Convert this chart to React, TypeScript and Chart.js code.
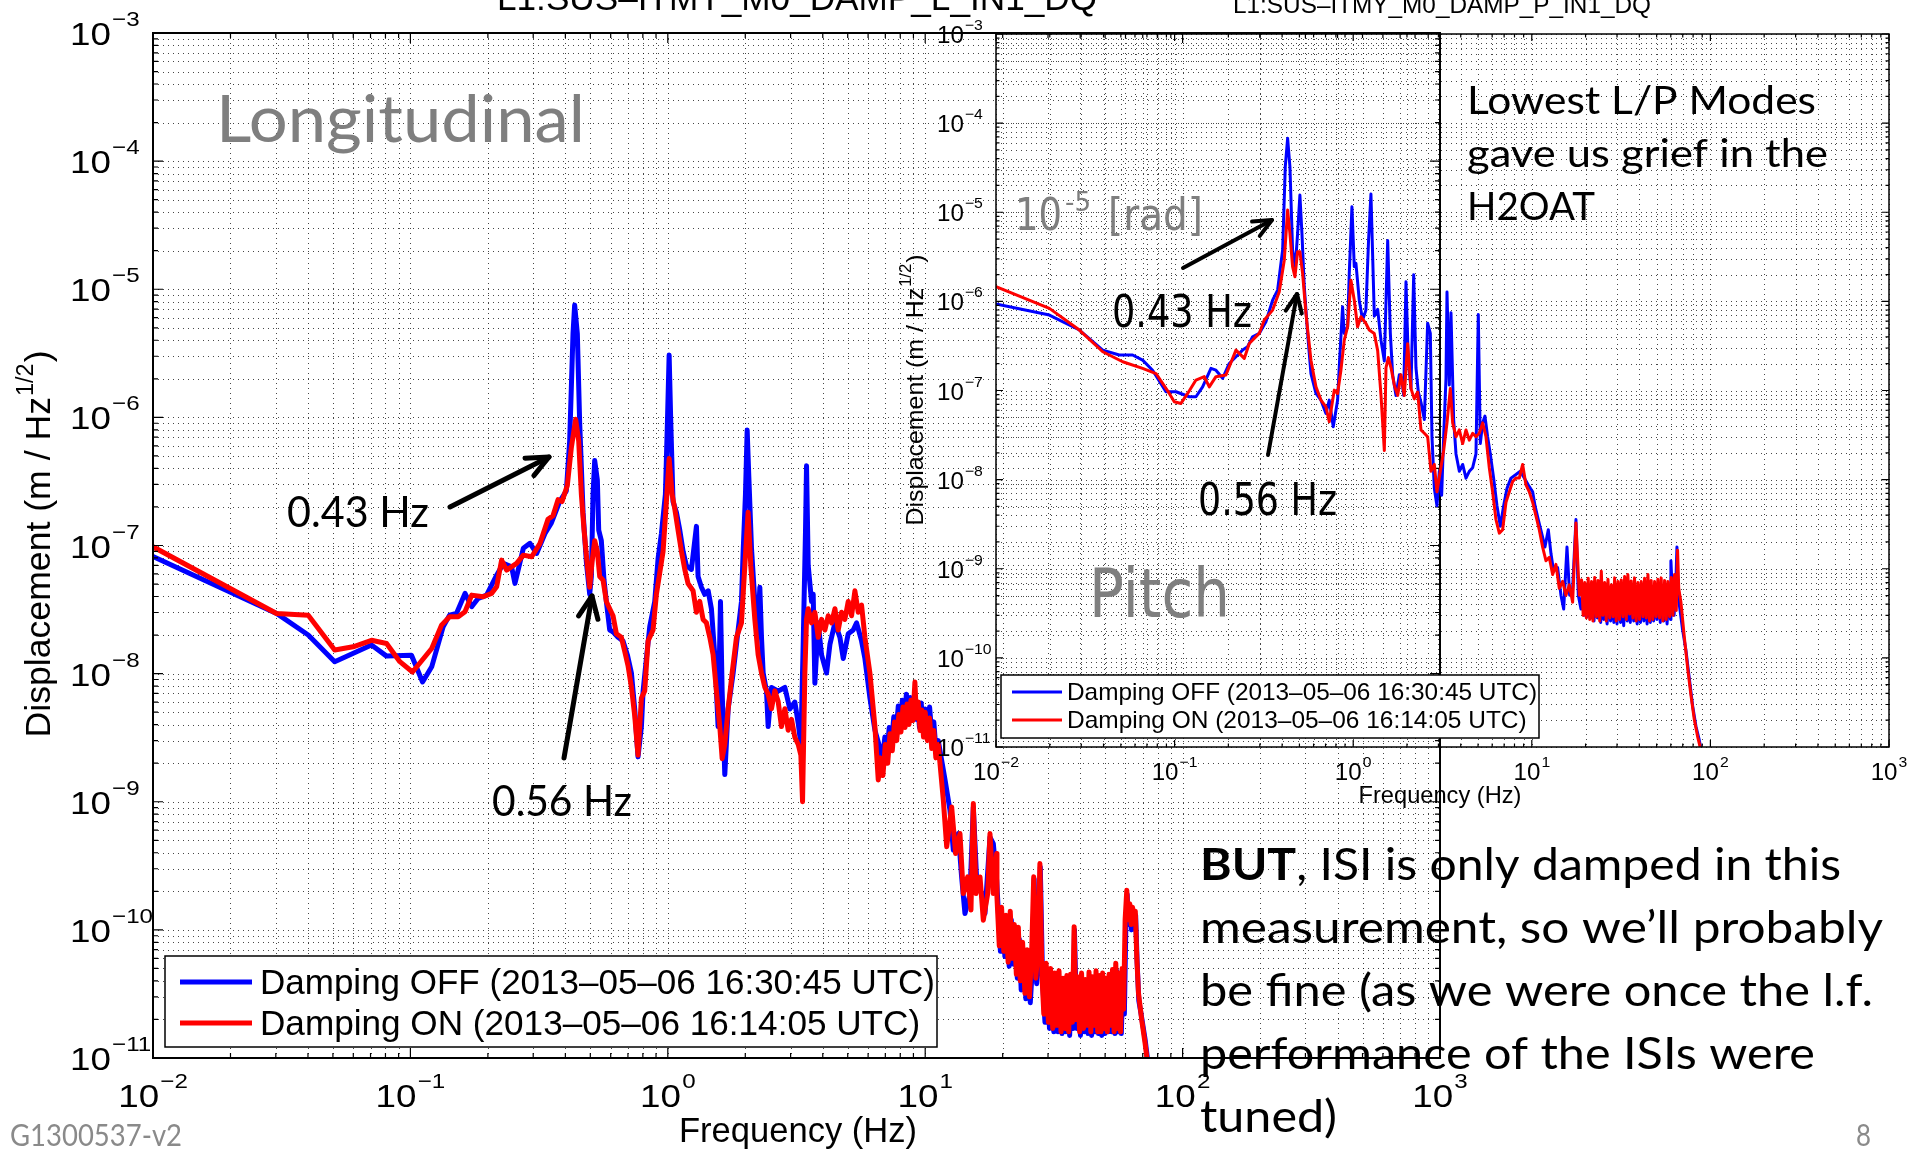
import React, { useEffect, useRef } from 'react';
import { Chart, registerables } from 'chart.js';

Chart.register(...registerables);

const W = 1927;
const H = 1152;

// ---------------- DATA (frequency Hz, amplitude) ----------------
const mainOff: [number, number][] = [
  [0.01, 8.2e-8], [0.0302, 2.95e-8], [0.0401, 2.0e-8], [0.0508, 1.24e-8], [0.0706, 1.67e-8], [0.0808, 1.37e-8],
  [0.101, 1.39e-8], [0.1115, 8.6e-9], [0.121, 1.13e-8], [0.134, 2.32e-8], [0.142, 2.86e-8], [0.151, 2.95e-8],
  [0.163, 4.23e-8], [0.173, 3.33e-8], [0.1835, 3.87e-8], [0.1977, 4.1e-8], [0.2163, 5.87e-8], [0.2296, 7.25e-8],
  [0.2472, 6.82e-8], [0.2548, 5.06e-8], [0.2746, 9.5e-8], [0.2914, 1.04e-7], [0.3093, 8.67e-8], [0.3333, 1.24e-7],
  [0.353, 1.5e-7], [0.38, 2.2e-7], [0.4035, 2.67e-7], [0.4157, 6.56e-7], [0.4283, 4.51e-6], [0.4346, 7.53e-6],
  [0.4452, 4.5e-6], [0.4546, 9.06e-7], [0.4686, 1.82e-7], [0.4827, 7.4e-8], [0.4972, 4.16e-8], [0.5047, 5.73e-8],
  [0.5123, 2.51e-7], [0.52, 4.61e-7], [0.5325, 3.24e-7], [0.539, 1.32e-7], [0.5518, 1.09e-7], [0.5652, 5.37e-8],
  [0.5771, 3.66e-8], [0.5947, 2.19e-8], [0.6127, 2.12e-8], [0.6407, 1.92e-8], [0.67, 1.8e-8], [0.6966, 1.4e-8],
  [0.7222, 1.01e-8], [0.7438, 5.3e-9], [0.766, 2.24e-9], [0.7898, 3.86e-9], [0.8017, 7.3e-9], [0.8257, 1.31e-8],
  [0.851, 2.33e-8], [0.8897, 3.66e-8], [0.9167, 7.9e-8], [0.9445, 1.24e-7], [0.9788, 2.51e-7], [0.9965, 9.06e-7],
  [1.012, 3.07e-6], [1.027, 9.06e-7], [1.048, 2.2e-7], [1.08, 1.82e-7], [1.113, 1.32e-7], [1.147, 8.97e-8],
  [1.181, 6.95e-8], [1.235, 6.5e-8], [1.292, 1.41e-7], [1.311, 5.73e-8], [1.351, 4.72e-8], [1.392, 4.16e-8],
  [1.435, 4.43e-8], [1.477, 3.21e-8], [1.522, 1.4e-8], [1.568, 3.86e-9], [1.602, 3.66e-8], [1.626, 7.3e-9],
  [1.665, 1.63e-9], [1.716, 5.3e-9], [1.794, 1.01e-8], [1.876, 2.19e-8], [1.933, 3.66e-8], [1.962, 8.97e-8],
  [2.003, 2.5e-7], [2.034, 7.96e-7], [2.064, 3.46e-7], [2.114, 9.57e-8], [2.178, 3.66e-8], [2.231, 1.92e-8],
  [2.278, 4.72e-8], [2.312, 1.92e-8], [2.347, 1.01e-8], [2.418, 7.3e-9], [2.454, 3.86e-9], [2.528, 7.8e-9],
  [2.684, 7.3e-9], [2.85, 7.8e-9], [2.979, 5.3e-9], [3.116, 6.0e-9], [3.211, 4.1e-9], [3.288, 2.8e-9],
  [3.357, 1.69e-8], [3.428, 1.32e-7], [3.459, 4.19e-7], [3.512, 6.95e-8], [3.618, 3.66e-8], [3.672, 4.16e-8],
  [3.727, 8.4e-9], [3.84, 2.49e-8], [3.957, 1.4e-8], [4.138, 1.01e-8], [4.264, 1.69e-8], [4.459, 2.49e-8],
  [4.663, 1.92e-8], [4.805, 1.31e-8], [5.023, 2.05e-8], [5.253, 2.19e-8], [5.413, 2.49e-8], [5.659, 1.8e-8],
  [5.831, 1.31e-8], [6.098, 6.46e-9], [6.377, 3.62e-9], [6.669, 2.63e-9], [6.8, 2.0e-9], [6.97, 3.2e-9],
  [7.1, 2.4e-9], [7.25, 3.8e-9], [7.4, 2.8e-9], [7.55, 4.6e-9], [7.7, 3.4e-9], [7.86, 5.6e-9],
  [8.0, 4.0e-9], [8.15, 6.2e-9], [8.3, 4.4e-9], [8.45, 6.9e-9], [8.6, 4.8e-9], [8.75, 6.5e-9],
  [8.9, 4.6e-9], [9.05, 6.2e-9], [9.2, 4.4e-9], [9.35, 5.7e-9], [9.5, 3.8e-9], [9.65, 5.9e-9],
  [9.8, 3.7e-9], [10.0, 5.3e-9], [10.2, 3.6e-9], [10.4, 5.5e-9], [10.6, 3.4e-9], [10.8, 4.2e-9],
  [11.0, 2.6e-9], [11.24, 3.0e-9], [11.93, 1.5e-9], [12.48, 8.6e-10], [12.86, 4.19e-10], [13.45, 5.65e-10],
  [13.85, 2.59e-10], [14.27, 1.34e-10], [14.93, 1.92e-10], [15.38, 9.1e-10], [15.85, 2.44e-10], [16.57, 1.92e-10],
  [17.07, 1.34e-10], [17.85, 5.3e-10], [18.39, 4.72e-10], [18.95, 2.44e-10], [19.2, 1.5e-10], [19.6, 6.8e-11],
  [20.0, 1.2e-10], [20.4, 6.2e-11], [20.8, 1.1e-10], [21.2, 5.2e-11], [21.6, 1.2e-10], [22.0, 5.4e-11],
  [22.4, 9.0e-11], [22.8, 4.2e-11], [23.2, 8.5e-11], [23.6, 3.4e-11], [24.1, 6.6e-11], [24.6, 2.9e-11],
  [25.1, 5.8e-11], [25.6, 2.7e-11], [26.1, 5.2e-11], [26.5, 2.5e-10], [27.1, 3.8e-11], [27.6, 5.5e-11],
  [28.0, 3.1e-10], [28.6, 3.8e-11], [29.2, 1.9e-11], [29.8, 4.5e-11], [30.4, 1.7e-11], [31.0, 4.0e-11],
  [31.6, 1.6e-11], [32.2, 3.8e-11], [32.8, 1.6e-11], [33.4, 3.9e-11], [34.0, 1.55e-11], [34.6, 3.5e-11],
  [35.2, 1.6e-11], [35.8, 3.6e-11], [36.4, 1.5e-11], [37.0, 3.7e-11], [37.6, 1.7e-11], [38.0, 1.0e-10],
  [38.8, 1.7e-11], [39.4, 3.6e-11], [40.1, 1.5e-11], [40.8, 3.8e-11], [41.5, 1.6e-11], [42.2, 3.4e-11],
  [42.9, 1.55e-11], [43.6, 3.9e-11], [44.3, 1.5e-11], [45.0, 3.6e-11], [45.7, 1.6e-11], [46.4, 4.0e-11],
  [47.1, 1.55e-11], [47.8, 3.7e-11], [48.5, 1.5e-11], [49.2, 3.8e-11], [49.9, 1.55e-11], [50.6, 3.5e-11],
  [51.4, 1.6e-11], [52.2, 3.8e-11], [53.0, 1.6e-11], [53.8, 4.2e-11], [54.6, 1.55e-11], [55.4, 4.8e-11],
  [56.2, 1.6e-11], [57.0, 3.9e-11], [57.8, 1.55e-11], [58.6, 4.2e-11], [59.4, 2.2e-11], [60.2, 1.1e-10],
  [60.9, 1.9e-10], [61.7, 1.1e-10], [62.5, 1.5e-10], [63.3, 1.0e-10], [64.1, 1.4e-10], [64.9, 1.1e-10],
  [65.7, 1.3e-10], [66.6, 5.5e-11], [67.6, 2.8e-11], [69.0, 2.2e-11], [71.5, 1.4e-11], [73.7, 8.5e-12],
];

const mainOn: [number, number][] = [
  [0.01, 9.77e-8], [0.0302, 2.95e-8], [0.0401, 2.86e-8], [0.0508, 1.53e-8], [0.0599, 1.62e-8], [0.0706, 1.82e-8],
  [0.0808, 1.72e-8], [0.091, 1.24e-8], [0.1019, 1.03e-8], [0.121, 1.57e-8], [0.1321, 2.39e-8], [0.142, 2.78e-8],
  [0.1534, 2.78e-8], [0.163, 3.04e-8], [0.173, 4.1e-8], [0.1919, 3.98e-8], [0.2067, 4.23e-8], [0.2163, 4.76e-8],
  [0.2261, 7.69e-8], [0.2365, 6.43e-8], [0.2586, 7.25e-8], [0.2746, 8.41e-8], [0.2958, 8.17e-8], [0.3188, 1.04e-7],
  [0.3423, 1.6e-7], [0.358, 1.71e-7], [0.3745, 2.28e-7], [0.388, 2.2e-7], [0.407, 2.94e-7], [0.4218, 5.78e-7],
  [0.4385, 9.66e-7], [0.4506, 6.56e-7], [0.4615, 2.51e-7], [0.4727, 1.32e-7], [0.487, 6.95e-8], [0.4972, 4.72e-8],
  [0.5077, 7.4e-8], [0.52, 1.09e-7], [0.5325, 8.97e-8], [0.5438, 5.73e-8], [0.5603, 5.37e-8], [0.5771, 3.66e-8],
  [0.5947, 3.21e-8], [0.6127, 2.83e-8], [0.6313, 2.05e-8], [0.6602, 1.92e-8], [0.6803, 1.49e-8], [0.7008, 1.15e-8],
  [0.7222, 7.83e-9], [0.7438, 4.69e-9], [0.766, 2.31e-9], [0.7898, 6.46e-9], [0.8136, 7.34e-9], [0.8381, 1.8e-8],
  [0.8765, 2.19e-8], [0.903, 4.16e-8], [0.9304, 6.11e-8], [0.9585, 8.97e-8], [0.9876, 2.2e-7], [1.012, 4.77e-7],
  [1.039, 2.51e-7], [1.064, 1.94e-7], [1.096, 1.32e-7], [1.13, 8.97e-8], [1.164, 6.51e-8], [1.199, 5.04e-8],
  [1.254, 4.43e-8], [1.292, 3.01e-8], [1.331, 3.66e-8], [1.371, 2.65e-8], [1.413, 2.49e-8], [1.456, 1.92e-8],
  [1.5, 1.4e-8], [1.545, 7.34e-9], [1.592, 3.86e-9], [1.626, 2.17e-9], [1.665, 2.8e-9], [1.716, 5.32e-9],
  [1.778, 1.01e-8], [1.848, 1.92e-8], [1.933, 2.49e-8], [1.992, 6.95e-8], [2.051, 1.82e-7], [2.101, 6.95e-8],
  [2.178, 2.65e-8], [2.244, 1.4e-8], [2.312, 1.01e-8], [2.382, 7.83e-9], [2.454, 6.89e-9], [2.528, 5.32e-9],
  [2.605, 7.34e-9], [2.684, 6.05e-9], [2.765, 3.86e-9], [2.85, 5.32e-9], [2.935, 3.62e-9], [3.024, 4.4e-9],
  [3.116, 3.18e-9], [3.211, 2.8e-9], [3.288, 2.31e-9], [3.338, 1.0e-9], [3.408, 1.01e-8], [3.459, 2.65e-8],
  [3.512, 3.21e-8], [3.618, 2.49e-8], [3.727, 3.01e-8], [3.84, 1.92e-8], [3.957, 2.65e-8], [4.077, 2.19e-8],
  [4.2, 2.83e-8], [4.327, 2.49e-8], [4.459, 3.21e-8], [4.593, 2.19e-8], [4.733, 3.01e-8], [4.875, 2.65e-8],
  [5.023, 3.66e-8], [5.176, 2.83e-8], [5.332, 4.43e-8], [5.494, 3.01e-8], [5.659, 3.43e-8], [5.831, 1.92e-8],
  [6.098, 1.01e-8], [6.377, 3.86e-9], [6.57, 1.48e-9], [6.7, 2.2e-9], [6.85, 1.6e-9], [7.0, 2.8e-9],
  [7.15, 2.0e-9], [7.3, 3.4e-9], [7.45, 2.5e-9], [7.6, 4.2e-9], [7.75, 3.0e-9], [7.9, 4.8e-9],
  [8.05, 3.5e-9], [8.2, 5.5e-9], [8.35, 3.8e-9], [8.5, 5.8e-9], [8.65, 4.0e-9], [8.8, 6.2e-9],
  [8.95, 4.3e-9], [9.12, 8.6e-9], [9.25, 4.5e-9], [9.4, 6.0e-9], [9.55, 3.6e-9], [9.7, 5.2e-9],
  [9.85, 3.2e-9], [10.0, 5.0e-9], [10.2, 3.0e-9], [10.4, 4.5e-9], [10.6, 2.6e-9], [10.8, 3.6e-9],
  [11.0, 2.2e-9], [11.24, 2.8e-9], [11.76, 1.03e-9], [12.12, 4.45e-10], [12.67, 9.1e-10], [13.13, 3.94e-10],
  [13.65, 5.65e-10], [14.06, 1.92e-10], [14.62, 2.59e-10], [15.06, 1.43e-10], [15.38, 9.7e-10], [15.75, 1.92e-10],
  [16.33, 2.59e-10], [16.82, 1.19e-10], [17.49, 1.92e-10], [17.85, 5.65e-10], [18.39, 1.92e-10], [18.95, 3.94e-10],
  [19.0, 1.8e-10], [19.4, 7.5e-11], [19.8, 1.5e-10], [20.2, 6.8e-11], [20.6, 1.3e-10], [21.0, 5.6e-11],
  [21.4, 1.4e-10], [21.8, 6.0e-11], [22.2, 1.1e-10], [22.6, 4.5e-11], [23.0, 1.05e-10], [23.4, 4.0e-11],
  [23.9, 8.0e-11], [24.4, 3.2e-11], [24.9, 7.0e-11], [25.4, 3.0e-11], [25.9, 6.5e-11], [26.4, 2.6e-10],
  [26.9, 4.2e-11], [27.4, 6.8e-11], [27.9, 3.3e-10], [28.4, 4.5e-11], [28.9, 2.2e-11], [29.5, 5.5e-11],
  [30.1, 1.9e-11], [30.7, 5.0e-11], [31.3, 1.7e-11], [31.9, 4.6e-11], [32.5, 1.8e-11], [33.1, 4.8e-11],
  [33.7, 1.6e-11], [34.3, 4.2e-11], [34.9, 1.7e-11], [35.5, 4.4e-11], [36.1, 1.6e-11], [36.7, 4.5e-11],
  [37.3, 1.9e-11], [37.9, 1.06e-10], [38.5, 2.0e-11], [39.1, 4.3e-11], [39.8, 1.6e-11], [40.5, 4.6e-11],
  [41.2, 1.7e-11], [41.9, 4.1e-11], [42.6, 1.8e-11], [43.3, 4.7e-11], [44.0, 1.6e-11], [44.7, 4.3e-11],
  [45.4, 1.8e-11], [46.1, 4.8e-11], [46.8, 1.6e-11], [47.5, 4.4e-11], [48.2, 1.6e-11], [48.9, 4.6e-11],
  [49.6, 1.7e-11], [50.3, 4.2e-11], [51.0, 1.6e-11], [51.8, 4.5e-11], [52.6, 1.8e-11], [53.4, 4.9e-11],
  [54.2, 1.6e-11], [55.0, 5.5e-11], [55.8, 1.7e-11], [56.6, 4.6e-11], [57.4, 1.6e-11], [58.2, 5.0e-11],
  [59.0, 2.4e-11], [59.8, 1.2e-10], [60.7, 2.04e-10], [61.5, 1.2e-10], [62.3, 1.6e-10], [63.1, 1.1e-10],
  [63.9, 1.5e-10], [64.7, 1.2e-10], [65.5, 1.4e-10], [66.4, 6.0e-11], [67.4, 3.2e-11], [69.4, 1.97e-11],
  [71.5, 1.3e-11], [73.7, 8.0e-12],
];

const pitchOff: [number, number][] = [
  [0.01, 9.33e-7], [0.0199, 7.02e-7], [0.0293, 4.77e-7], [0.0396, 2.84e-7], [0.049, 2.5e-7], [0.0582, 2.5e-7],
  [0.0662, 2.19e-7], [0.0753, 1.69e-7], [0.0894, 9.68e-8], [0.1018, 9.68e-8], [0.1209, 8.51e-8], [0.1317, 8.51e-8],
  [0.1435, 1.1e-7], [0.1598, 1.77e-7], [0.1704, 1.69e-7], [0.1857, 1.37e-7], [0.2024, 2.01e-7], [0.2206, 2.39e-7],
  [0.2403, 2.84e-7], [0.2563, 3.1e-7], [0.2733, 4.01e-7], [0.2978, 4.37e-7], [0.3246, 5.9e-7], [0.3538, 1.03e-6],
  [0.3774, 1.34e-6], [0.4026, 3.77e-6], [0.4166, 3.24e-5], [0.4294, 6.75e-5], [0.4423, 3.24e-5], [0.4577, 3.77e-6],
  [0.4738, 2.45e-6], [0.4884, 5.79e-6], [0.503, 1.56e-5], [0.5164, 5.79e-6], [0.5322, 1.46e-6], [0.5556, 4.37e-7],
  [0.58, 1.55e-7], [0.6187, 9.27e-8], [0.6598, 7.8e-8], [0.7036, 5.52e-8], [0.7345, 7.8e-8], [0.7733, 3.92e-8],
  [0.8178, 7.8e-8], [0.8356, 1.85e-7], [0.8721, 8.7e-7], [0.8912, 4.37e-7], [0.9304, 5.19e-7], [0.9506, 2.06e-6],
  [0.9838, 1.15e-5], [1.014, 2.45e-6], [1.036, 2.67e-6], [1.081, 1.03e-6], [1.129, 6.17e-7], [1.178, 7.98e-7],
  [1.219, 4.88e-6], [1.257, 1.6e-5], [1.313, 6.82e-7], [1.371, 8.15e-7], [1.431, 3.66e-7], [1.494, 2.14e-7],
  [1.56, 4.83e-6], [1.614, 4.37e-7], [1.663, 1.5e-7], [1.736, 8.81e-8], [1.813, 1.5e-7], [1.867, 1.37e-7],
  [1.917, 8.81e-8], [1.975, 1.66e-6], [2.035, 2.14e-7], [2.106, 1.05e-7], [2.181, 1.99e-6], [2.246, 1.8e-7],
  [2.315, 9.62e-8], [2.396, 7.37e-8], [2.502, 4.72e-8], [2.611, 5.7e-7], [2.703, 4.37e-7], [2.761, 3.03e-8],
  [2.846, 7.97e-9], [2.945, 5.1e-9], [3.035, 1.24e-8], [3.128, 6.67e-9], [3.21, 3.03e-8], [3.308, 1.37e-7],
  [3.351, 1.27e-6], [3.453, 1.15e-7], [3.528, 7.45e-7], [3.651, 4.72e-8], [3.763, 1.94e-8], [3.928, 1.24e-8],
  [4.101, 1.48e-8], [4.281, 1.04e-8], [4.469, 1.24e-8], [4.665, 1.36e-8], [4.869, 1.94e-8], [5.017, 7.13e-7],
  [5.148, 2.54e-8], [5.305, 4.33e-8], [5.467, 5.16e-8], [5.657, 3.03e-8], [5.856, 1.94e-8], [6.113, 1.04e-8],
  [6.383, 5.1e-9], [6.663, 2.99e-9], [6.956, 5.1e-9], [7.262, 7.97e-9], [7.646, 1.04e-8], [8.153, 1.14e-8],
  [8.622, 1.24e-8], [9.078, 1.04e-8], [9.559, 8.71e-9], [10.11, 7.29e-9], [10.42, 5.1e-9], [10.87, 3.57e-9],
  [11.35, 2.51e-9], [11.85, 1.75e-9], [12.37, 2.74e-9], [12.81, 1.47e-9], [13.25, 9.41e-10], [13.95, 1.03e-9],
  [14.56, 5.05e-10], [15.08, 3.53e-10], [15.74, 1.75e-9], [16.29, 5.05e-10], [16.93, 6.03e-10], [17.67, 3.57e-9],
  [18.21, 5.05e-10], [18.85, 3.53e-10], [19.2, 5.5e-10], [19.6, 3.0e-10], [20.0, 5.2e-10], [20.5, 2.9e-10],
  [20.9, 5.6e-10], [21.4, 2.8e-10], [21.8, 5.3e-10], [22.3, 2.6e-10], [22.8, 6.0e-10], [23.3, 2.8e-10],
  [23.8, 5.4e-10], [24.3, 2.5e-10], [24.8, 5.8e-10], [25.3, 2.7e-10], [25.9, 5.1e-10], [26.4, 2.4e-10],
  [27.0, 5.5e-10], [27.6, 2.6e-10], [28.2, 4.8e-10], [28.8, 2.5e-10], [29.4, 5.6e-10], [30.0, 2.4e-10],
  [30.7, 5.2e-10], [31.4, 2.5e-10], [32.0, 5.4e-10], [32.7, 2.3e-10], [33.4, 5.8e-10], [34.2, 2.6e-10],
  [34.9, 5.6e-10], [35.6, 2.5e-10], [36.4, 5.2e-10], [37.2, 2.6e-10], [38.0, 5.6e-10], [38.9, 2.4e-10],
  [39.7, 5.0e-10], [40.6, 2.5e-10], [41.5, 5.3e-10], [42.4, 2.6e-10], [43.3, 5.6e-10], [44.2, 2.4e-10],
  [45.1, 5.8e-10], [46.1, 2.5e-10], [47.1, 5.2e-10], [48.1, 2.6e-10], [49.2, 5.0e-10], [50.2, 2.7e-10],
  [51.3, 5.4e-10], [52.4, 2.5e-10], [53.6, 5.6e-10], [54.8, 2.6e-10], [56.0, 5.2e-10], [57.2, 2.4e-10],
  [58.5, 5.5e-10], [59.8, 2.7e-10], [60.1, 1.23e-9], [61.2, 5.6e-10], [62.6, 3.0e-10], [63.9, 6.0e-10],
  [64.96, 1.75e-9], [66.0, 5.0e-10], [67.5, 3.5e-10], [69.87, 2.07e-10], [72.95, 1.22e-10], [76.14, 5.96e-11],
  [79.49, 2.92e-11], [82.99, 1.71e-11], [86.6, 1.2e-11], [90.43, 7.7e-12],
];

const pitchOn: [number, number][] = [
  [0.01, 1.46e-6], [0.0199, 8.34e-7], [0.0293, 4.77e-7], [0.0396, 2.72e-7], [0.0512, 2.1e-7], [0.0662, 1.77e-7],
  [0.0787, 1.55e-7], [0.0934, 9.27e-8], [0.0996, 7.47e-8], [0.1085, 7.16e-8], [0.1183, 9.27e-8], [0.1317, 1.31e-7],
  [0.1466, 1.43e-7], [0.1564, 1.1e-7], [0.1704, 1.43e-7], [0.1938, 1.49e-7], [0.2206, 2.84e-7], [0.2455, 2.29e-7],
  [0.2619, 3.37e-7], [0.2978, 4.37e-7], [0.3177, 6.17e-7], [0.3538, 7.98e-7], [0.3855, 1.28e-6], [0.4112, 2.9e-6],
  [0.4294, 1.06e-5], [0.4423, 5.79e-6], [0.4577, 2.45e-6], [0.4718, 1.89e-6], [0.4884, 3.61e-6], [0.503, 3.61e-6],
  [0.5208, 2.06e-6], [0.5437, 7.33e-7], [0.58, 2.19e-7], [0.6187, 1.1e-7], [0.6598, 7.8e-8], [0.7036, 6.56e-8],
  [0.7345, 4.46e-8], [0.7834, 1.01e-7], [0.8178, 9.27e-8], [0.8537, 1.69e-7], [0.8912, 3.67e-7], [0.9304, 5.19e-7],
  [0.9712, 1.73e-6], [1.014, 1.03e-6], [1.058, 5.19e-7], [1.105, 6.72e-7], [1.178, 5.65e-7], [1.23, 4.77e-7],
  [1.312, 4.37e-7], [1.371, 2.8e-7], [1.431, 8.81e-8], [1.494, 2.12e-8], [1.526, 1.8e-7], [1.573, 2.34e-7],
  [1.628, 1.8e-7], [1.699, 1.15e-7], [1.774, 8.81e-8], [1.852, 1.5e-7], [1.933, 8.81e-8], [2.018, 3.35e-7],
  [2.106, 1.05e-7], [2.199, 8.05e-8], [2.296, 9.62e-8], [2.396, 3.61e-8], [2.502, 3.31e-8], [2.611, 3.03e-8],
  [2.726, 1.24e-8], [2.846, 1.48e-8], [2.945, 7.29e-9], [3.074, 1.24e-8], [3.21, 2.12e-8], [3.351, 4.33e-8],
  [3.498, 1.05e-7], [3.605, 4.33e-8], [3.763, 3.03e-8], [3.928, 3.61e-8], [4.101, 2.54e-8], [4.281, 3.61e-8],
  [4.469, 2.77e-8], [4.665, 3.31e-8], [4.869, 3.03e-8], [5.082, 3.31e-8], [5.305, 4.33e-8], [5.538, 3.03e-8],
  [5.781, 1.36e-8], [6.034, 7.29e-9], [6.299, 3.57e-9], [6.578, 2.51e-9], [6.866, 2.74e-9], [7.168, 5.58e-9],
  [7.482, 7.29e-9], [7.811, 9.53e-9], [8.153, 1.04e-8], [8.511, 1.04e-8], [8.887, 1.48e-8], [9.276, 8.71e-9],
  [9.683, 7.29e-9], [10.11, 5.58e-9], [10.55, 3.91e-9], [11.01, 2.74e-9], [11.5, 1.75e-9], [12.0, 1.23e-9],
  [12.53, 1.34e-9], [13.08, 8.61e-10], [13.65, 1.12e-9], [14.25, 6.03e-10], [14.88, 7.21e-10], [15.53, 5.05e-10],
  [16.21, 6.59e-10], [16.93, 4.22e-10], [17.67, 3.27e-9], [18.45, 5.05e-10], [19.0, 7.5e-10], [19.4, 3.0e-10],
  [19.8, 7.0e-10], [20.2, 2.8e-10], [20.7, 7.8e-10], [21.1, 2.7e-10], [21.6, 7.2e-10], [22.0, 2.6e-10],
  [22.5, 8.0e-10], [23.0, 2.9e-10], [23.5, 7.4e-10], [24.0, 2.6e-10], [24.5, 9.4e-10], [25.0, 3.0e-10],
  [25.6, 7.0e-10], [26.1, 2.6e-10], [26.7, 7.6e-10], [27.3, 2.8e-10], [27.9, 6.6e-10], [28.5, 2.9e-10],
  [29.1, 7.9e-10], [29.7, 2.6e-10], [30.4, 7.2e-10], [31.0, 2.7e-10], [31.7, 7.5e-10], [32.4, 2.9e-10],
  [33.1, 8.2e-10], [33.8, 2.7e-10], [34.5, 8.6e-10], [35.3, 3.1e-10], [36.0, 7.3e-10], [36.8, 2.8e-10],
  [37.6, 7.9e-10], [38.4, 2.6e-10], [39.3, 7.0e-10], [40.1, 2.7e-10], [41.0, 7.2e-10], [41.9, 2.9e-10],
  [42.8, 7.8e-10], [43.7, 2.8e-10], [44.7, 8.6e-10], [45.6, 2.6e-10], [46.6, 7.4e-10], [47.6, 2.7e-10],
  [48.7, 7.2e-10], [49.7, 2.9e-10], [50.8, 7.6e-10], [51.9, 2.8e-10], [53.0, 7.9e-10], [54.2, 2.6e-10],
  [55.4, 7.4e-10], [56.6, 2.7e-10], [57.8, 7.2e-10], [59.1, 2.9e-10], [60.4, 8.0e-10], [61.7, 3.0e-10],
  [63.0, 8.6e-10], [64.4, 3.4e-10], [65.5, 1.61e-9], [66.5, 6.0e-10], [68.4, 4.2e-10], [71.4, 1.73e-10],
  [74.53, 7.78e-11], [77.8, 3.82e-11], [81.22, 2.05e-11], [84.79, 1.31e-11], [88.5, 9.2e-12], [92.38, 6.4e-12],
];

const seriesLabels = ['Damping OFF (2013\u201305\u201306 16:30:45 UTC)', 'Damping ON (2013\u201305\u201306 16:14:05 UTC)'];
const seriesColors = ['#0000ff', '#ff0000'];
const xTickExps = [-2, -1, 0, 1, 2, 3];
const yTickExps = [-11, -10, -9, -8, -7, -6, -5, -4, -3];
const mainTitle = 'L1:SUS\u2013ITMY_M0_DAMP_L_IN1_DQ';
const insetTitle = 'L1:SUS\u2013ITMY_M0_DAMP_P_IN1_DQ';
const xLabel = 'Frequency (Hz)';
const yLabel = 'Displacement (m / Hz';
const butLines = [
  [['BUT', true], [', ISI is only damped in this', false]],
  [['measurement, so we\u2019ll probably', false]],
  [['be fine (as we were once the l.f.', false]],
  [['performance of the ISIs were', false]],
  [['tuned)', false]],
] as [string, boolean][][];
const gripeLines = ['Lowest L/P Modes', 'gave us grief in the', 'H2OAT'];

// ---------------- helpers ----------------
const MF = '"Liberation Sans", Arial, Helvetica, sans-serif';
const SF = 'Lato, "Open Sans", sans-serif';
const LF = '"DejaVu Sans", Verdana, sans-serif';

function logTickValues(exps: number[]) {
  const out: number[] = [];
  for (let i = 0; i < exps.length - 1; i++) {
    for (let m = 1; m < 10; m++) out.push(m * Math.pow(10, exps[i]));
  }
  out.push(Math.pow(10, exps[exps.length - 1]));
  return out;
}
const isMajor = (v: number) => Math.abs(Math.log10(v) - Math.round(Math.log10(v))) < 1e-6;

function fitText(ctx: CanvasRenderingContext2D, text: string, x: number, y: number, width: number, font: string, color: string, align = 'left') {
  ctx.save();
  ctx.font = font;
  ctx.fillStyle = color;
  ctx.textAlign = 'left';
  ctx.textBaseline = 'alphabetic';
  const w = ctx.measureText(text).width;
  const s = width ? width / w : 1;
  const x0 = align === 'center' ? x - (w * s) / 2 : x;
  ctx.translate(x0, y);
  ctx.scale(s, 1);
  ctx.fillText(text, 0, 0);
  ctx.restore();
}

function richLine(ctx: CanvasRenderingContext2D, segs: [string, boolean][], x: number, y: number, width: number, size: number, color: string) {
  ctx.save();
  ctx.fillStyle = color;
  ctx.textAlign = 'left';
  ctx.textBaseline = 'alphabetic';
  const fonts = segs.map(([, b]) => `${b ? 'bold ' : ''}${size}px ${SF}`);
  const widths = segs.map(([t], i) => { ctx.font = fonts[i]; return ctx.measureText(t).width; });
  const total = widths.reduce((a, b) => a + b, 0);
  ctx.translate(x, y);
  ctx.scale(width / total, 1);
  let cx = 0;
  segs.forEach(([t], i) => { ctx.font = fonts[i]; ctx.fillText(t, cx, 0); cx += widths[i]; });
  ctx.restore();
}

function powLabel(ctx: CanvasRenderingContext2D, exp: number, x: number, y: number, size: number, supSize: number, rise: number, align: string, sx: number, color = '#000', family = MF) {
  const base = '10';
  const sup = exp < 0 ? '\u2212' + -exp : String(exp);
  ctx.save();
  ctx.fillStyle = color;
  ctx.textAlign = 'left';
  ctx.textBaseline = 'alphabetic';
  ctx.font = `${size}px ${family}`;
  const wb = ctx.measureText(base).width;
  ctx.font = `${supSize}px ${family}`;
  const ws = ctx.measureText(sup).width;
  const total = (wb + ws + 1) * sx;
  const x0 = align === 'center' ? x - total / 2 : x;
  ctx.translate(x0, y);
  ctx.scale(sx, 1);
  ctx.font = `${size}px ${family}`;
  ctx.fillText(base, 0, 0);
  ctx.font = `${supSize}px ${family}`;
  ctx.fillText(sup, wb + 1, -rise);
  ctx.restore();
}

function yAxisLabel(ctx: CanvasRenderingContext2D, bx: number, cy: number, length: number, size: number) {
  ctx.save();
  ctx.translate(bx, cy);
  ctx.rotate(-Math.PI / 2);
  ctx.fillStyle = '#000';
  ctx.textAlign = 'left';
  ctx.textBaseline = 'alphabetic';
  ctx.font = `${size}px ${MF}`;
  const w1 = ctx.measureText(yLabel).width;
  const w3 = ctx.measureText(')').width;
  ctx.font = `${Math.round(size * 0.65)}px ${MF}`;
  const w2 = ctx.measureText('1/2').width;
  const total = w1 + w2 + w3 + 2;
  const s = length / total;
  ctx.scale(s, 1);
  const x0 = -total / 2;
  ctx.font = `${size}px ${MF}`;
  ctx.fillText(yLabel, x0, 0);
  ctx.font = `${Math.round(size * 0.65)}px ${MF}`;
  ctx.fillText('1/2', x0 + w1 + 1, -size * 0.5);
  ctx.font = `${size}px ${MF}`;
  ctx.fillText(')', x0 + w1 + w2 + 2, 0);
  ctx.restore();
}

function arrow(ctx: CanvasRenderingContext2D, x1: number, y1: number, x2: number, y2: number, lw: number, head: number) {
  ctx.save();
  ctx.strokeStyle = '#000';
  ctx.lineWidth = lw;
  ctx.lineCap = 'round';
  ctx.lineJoin = 'round';
  ctx.beginPath();
  ctx.moveTo(x1, y1);
  ctx.lineTo(x2, y2);
  ctx.stroke();
  const a = Math.atan2(y2 - y1, x2 - x1);
  ctx.beginPath();
  ctx.moveTo(x2 - head * Math.cos(a - 0.42), y2 - head * Math.sin(a - 0.42));
  ctx.lineTo(x2, y2);
  ctx.lineTo(x2 - head * Math.cos(a + 0.42), y2 - head * Math.sin(a + 0.42));
  ctx.stroke();
  ctx.restore();
}

function legend(ctx: CanvasRenderingContext2D, box: number[], rowsY: number[], lx1: number, lx2: number, tx: number, lw: number, size: number, textW: number, baseOff: number) {
  ctx.save();
  ctx.fillStyle = '#fff';
  ctx.fillRect(box[0], box[1], box[2] - box[0], box[3] - box[1]);
  ctx.strokeStyle = '#000';
  ctx.lineWidth = 1.5;
  ctx.strokeRect(box[0], box[1], box[2] - box[0], box[3] - box[1]);
  [0, 1].forEach((i) => {
    ctx.strokeStyle = seriesColors[i];
    ctx.lineWidth = lw;
    ctx.beginPath();
    ctx.moveTo(lx1, rowsY[i]);
    ctx.lineTo(lx2, rowsY[i]);
    ctx.stroke();
    fitText(ctx, seriesLabels[i], tx, rowsY[i] + baseOff, i === 0 ? textW : textW * 0.978, `${size}px ${MF}`, '#000');
  });
  ctx.restore();
}

function dottedGrid(chart: any, xT: number[], yT: number[]) {
  const ctx: CanvasRenderingContext2D = chart.ctx;
  const ca = chart.chartArea;
  const xs = chart.scales.x;
  const ys = chart.scales.y;
  ctx.save();
  ctx.strokeStyle = 'rgba(0,0,0,0.72)';
  ctx.lineWidth = 1;
  ctx.setLineDash([1, 4]);
  ctx.beginPath();
  xT.forEach((v) => {
    const p = Math.round(xs.getPixelForValue(v)) + 0.5;
    ctx.moveTo(p, ca.top);
    ctx.lineTo(p, ca.bottom);
  });
  yT.forEach((v) => {
    const p = Math.round(ys.getPixelForValue(v)) + 0.5;
    ctx.moveTo(ca.left, p);
    ctx.lineTo(ca.right, p);
  });
  ctx.stroke();
  ctx.restore();
}

function frame(chart: any, xT: number[], yT: number[], majorLen: number, boxW: number) {
  const ctx: CanvasRenderingContext2D = chart.ctx;
  const ca = chart.chartArea;
  const xs = chart.scales.x;
  const ys = chart.scales.y;
  ctx.save();
  ctx.strokeStyle = '#000';
  ctx.lineWidth = 1.2;
  ctx.beginPath();
  xT.forEach((v) => {
    const p = xs.getPixelForValue(v);
    const L = isMajor(v) ? majorLen : majorLen / 2;
    ctx.moveTo(p, ca.bottom); ctx.lineTo(p, ca.bottom - L);
    ctx.moveTo(p, ca.top); ctx.lineTo(p, ca.top + L);
  });
  yT.forEach((v) => {
    const p = ys.getPixelForValue(v);
    const L = isMajor(v) ? majorLen : majorLen / 2;
    ctx.moveTo(ca.left, p); ctx.lineTo(ca.left + L, p);
    ctx.moveTo(ca.right, p); ctx.lineTo(ca.right - L, p);
  });
  ctx.stroke();
  ctx.lineWidth = boxW;
  ctx.strokeRect(ca.left, ca.top, ca.right - ca.left, ca.bottom - ca.top);
  ctx.restore();
}

function scaleOpts(axis: string, min: number, max: number, tickVals: number[]) {
  return {
    type: 'logarithmic',
    min,
    max,
    position: axis === 'x' ? 'bottom' : 'left',
    grid: { display: false, drawTicks: false },
    border: { display: false },
    ticks: { display: false },
    afterBuildTicks: (s: any) => { s.ticks = tickVals.map((v) => ({ value: v })); },
    afterFit: (s: any) => { if (axis === 'x') s.height = 0; else s.width = 0; },
  };
}

function buildConfig(off: [number, number][], on: [number, number][], area: any, lw: number, decor: any) {
  const xT = logTickValues(xTickExps);
  const yT = logTickValues(yTickExps);
  return {
    type: 'line',
    data: {
      datasets: [
        { label: seriesLabels[1], data: on.map(([x, y]) => ({ x, y })), borderColor: seriesColors[1], borderWidth: lw, pointRadius: 0, tension: 0, fill: false, order: 0, borderJoinStyle: 'round', borderCapStyle: 'round' },
        { label: seriesLabels[0], data: off.map(([x, y]) => ({ x, y })), borderColor: seriesColors[0], borderWidth: lw, pointRadius: 0, tension: 0, fill: false, order: 1, borderJoinStyle: 'round', borderCapStyle: 'round' },
      ],
    },
    options: {
      responsive: false,
      animation: false,
      devicePixelRatio: 1,
      events: [],
      layout: { padding: { left: area.left, top: area.top, right: W - area.right, bottom: H - area.bottom } },
      scales: { x: scaleOpts('x', 1e-2, 1e3, xT), y: scaleOpts('y', 1e-11, 1e-3, yT) },
      plugins: { legend: { display: false }, title: { display: false }, tooltip: { enabled: false } },
    },
    plugins: [decor(xT, yT)],
  };
}

const mainDecor = (xT: number[], yT: number[]) => ({
  id: 'mainDecor',
  beforeDatasetsDraw(chart: any) {
    dottedGrid(chart, xT, yT);
  },
  afterDatasetsDraw(chart: any) {
    frame(chart, xT, yT, 10, 2);
  },
  afterDraw(chart: any) {
    const ctx: CanvasRenderingContext2D = chart.ctx;
    const xs = chart.scales.x;
    const ys = chart.scales.y;
    yTickExps.forEach((e) => powLabel(ctx, e, 70, ys.getPixelForValue(Math.pow(10, e)) + 12, 32, 21, 19, 'left', 1.15));
    xTickExps.forEach((e) => powLabel(ctx, e, xs.getPixelForValue(Math.pow(10, e)), 1107, 32, 21, 19, 'center', 1.15));
    fitText(ctx, xLabel, 798, 1142, 238, `35px ${MF}`, '#000', 'center');
    yAxisLabel(ctx, 50, 544, 387, 35);
    fitText(ctx, mainTitle, 797, 10, 600, `35px ${MF}`, '#000', 'center');
    legend(ctx, [165, 956, 937, 1047], [982, 1023], 180, 252, 260, 5, 35, 675, 12);
    fitText(ctx, 'Longitudinal', 216, 142, 369, `65px ${SF}`, '#7f7f7f');
    fitText(ctx, '0.43 Hz', 287, 527, 142, `42px ${SF}`, '#000');
    fitText(ctx, '0.56 Hz', 492, 816, 140, `42px ${SF}`, '#000');
    arrow(ctx, 450, 507, 549, 457, 5, 24);
    arrow(ctx, 564, 758, 592, 596, 5, 24);
  },
});

const insetDecor = (xT: number[], yT: number[]) => ({
  id: 'insetDecor',
  beforeDatasetsDraw(chart: any) {
    dottedGrid(chart, xT, yT);
  },
  afterDatasetsDraw(chart: any) {
    frame(chart, xT, yT, 7, 1.5);
  },
  afterDraw(chart: any) {
    const ctx: CanvasRenderingContext2D = chart.ctx;
    const xs = chart.scales.x;
    const ys = chart.scales.y;
    yTickExps.forEach((e) => powLabel(ctx, e, 937, ys.getPixelForValue(Math.pow(10, e)) + 9, 23, 15, 13, 'left', 1.05));
    xTickExps.forEach((e) => powLabel(ctx, e, xs.getPixelForValue(Math.pow(10, e)), 780, 23, 15, 13, 'center', 1.05));
    fitText(ctx, xLabel, 1440, 803, 163, `24px ${MF}`, '#000', 'center');
    yAxisLabel(ctx, 923, 390, 271, 24);
    fitText(ctx, insetTitle, 1442, 13, 418, `24px ${MF}`, '#000', 'center');
    legend(ctx, [1001, 675, 1539, 738], [692, 720], 1012, 1062, 1067, 3, 24, 470, 8);
    // pitch annotations
    fitText(ctx, '10', 1015, 230, 47, `45px ${LF}`, '#7f7f7f');
    fitText(ctx, '-5', 1065, 211, 26, `26px ${LF}`, '#7f7f7f');
    fitText(ctx, '[rad]', 1108, 230, 95, `45px ${LF}`, '#7f7f7f');
    fitText(ctx, '0.43 Hz', 1112, 327, 140, `44px ${LF}`, '#000');
    fitText(ctx, '0.56 Hz', 1198, 515, 139, `44px ${LF}`, '#000');
    fitText(ctx, 'Pitch', 1089, 617, 141, `68px ${LF}`, '#7f7f7f');
    arrow(ctx, 1183, 268, 1272, 220, 4, 20);
    arrow(ctx, 1268, 455, 1297, 294, 4, 20);
    // slide text
    const gw = [349, 361, 128];
    gripeLines.forEach((t, i) => fitText(ctx, t, 1467, 114 + i * 53, gw[i], `38px ${SF}`, '#000'));
    const bw = [641, 683, 673, 615, 137];
    butLines.forEach((segs, i) => richLine(ctx, segs, 1200, 880 + i * 63, bw[i], 44, '#000'));
    fitText(ctx, 'G1300537-v2', 10, 1146, 172, `30px ${SF}`, '#8a8a8a');
    fitText(ctx, '8', 1856, 1146, 15, `30px ${SF}`, '#8a8a8a');
  },
});

export default function App() {
  const mainRef = useRef<HTMLCanvasElement>(null);
  const insetRef = useRef<HTMLCanvasElement>(null);
  useEffect(() => {
    document.body.style.overflow = 'hidden';
    const c1 = new Chart(mainRef.current as HTMLCanvasElement, buildConfig(mainOff, mainOn, { left: 153, top: 33, right: 1440, bottom: 1058 }, 5, mainDecor) as any);
    const c2 = new Chart(insetRef.current as HTMLCanvasElement, buildConfig(pitchOff, pitchOn, { left: 996, top: 34, right: 1889, bottom: 747 }, 3, insetDecor) as any);
    return () => {
      c1.destroy();
      c2.destroy();
    };
  }, []);
  return (
    <div style={{ position: 'absolute', left: 0, top: 0, width: W, height: H, background: '#fff', overflow: 'hidden' }}>
      <canvas ref={mainRef} width={W} height={H} style={{ position: 'absolute', left: 0, top: 0 }} />
      <canvas ref={insetRef} width={W} height={H} style={{ position: 'absolute', left: 0, top: 0 }} />
    </div>
  );
}
